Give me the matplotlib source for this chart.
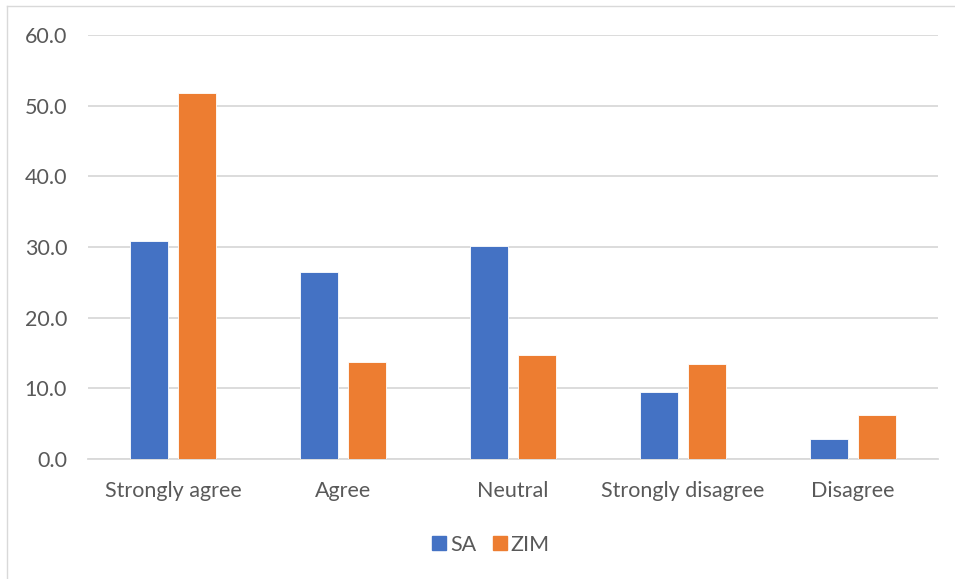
import matplotlib
matplotlib.use("Agg")
import matplotlib.pyplot as plt
import numpy as np
from matplotlib.lines import Line2D

categories = ["Strongly agree", "Agree", "Neutral", "Strongly disagree", "Disagree"]
sa_values = [30.9, 26.4, 30.2, 9.5, 2.9]
zim_values = [51.8, 13.7, 14.7, 13.4, 6.2]
series_names = ["SA", "ZIM"]
y_ticks = [0, 10, 20, 30, 40, 50, 60]

SA_COLOR = "#4472C4"
ZIM_COLOR = "#ED7D31"
TEXT_COLOR = "#595959"
GRID_COLOR = "#D9D9D9"
FONT_SIZE = 15.5

plt.rcParams["font.family"] = ["Lato", "DejaVu Sans"]

W, H = 955, 579
fig = plt.figure(figsize=(W / 100, H / 100), dpi=100)
ax = fig.add_axes([88 / W, 1 - 459 / H, (938 - 88) / W, (459 - 35) / H])

x = np.arange(len(categories))
bar_w = 38 / 170
offset = 24 / 170
ax.bar(x - offset, sa_values, width=bar_w, color=SA_COLOR, edgecolor="white",
       linewidth=0.6, zorder=3, label=series_names[0])
ax.bar(x + offset, zim_values, width=bar_w, color=ZIM_COLOR, edgecolor="white",
       linewidth=0.6, zorder=3, label=series_names[1])

ax.set_xlim(-0.5, len(categories) - 0.5)
ax.set_ylim(0, 60)
ax.set_yticks(y_ticks)
ax.set_yticklabels([f"{v:.1f}" for v in y_ticks])
ax.set_xticks(x)
ax.set_xticklabels(categories)
ax.yaxis.grid(True, color=GRID_COLOR, linewidth=1.3, zorder=0)
ax.set_axisbelow(True)
for side in ["top", "right", "left"]:
    ax.spines[side].set_visible(False)
ax.spines["bottom"].set_color(GRID_COLOR)
ax.spines["bottom"].set_linewidth(1.3)
ax.tick_params(axis="both", length=0, labelsize=FONT_SIZE, colors=TEXT_COLOR)
ax.tick_params(axis="y", pad=15)
ax.tick_params(axis="x", pad=16)

handles = [
    Line2D([0], [0], marker="s", linestyle="none", markersize=10,
           markerfacecolor=SA_COLOR, markeredgecolor=SA_COLOR),
    Line2D([0], [0], marker="s", linestyle="none", markersize=10,
           markerfacecolor=ZIM_COLOR, markeredgecolor=ZIM_COLOR),
]
leg = fig.legend(handles, series_names, loc="center", bbox_to_anchor=(489 / W, 1 - 545 / H),
                 ncol=2, frameon=False, fontsize=FONT_SIZE, handletextpad=0.0,
                 columnspacing=0.6, handlelength=1.0, labelcolor=TEXT_COLOR)

# chart frame (left and top edges)
fig.add_artist(Line2D([7 / W, 7 / W], [0, 1 - 6 / H], transform=fig.transFigure,
                      color=GRID_COLOR, linewidth=1.0))
fig.add_artist(Line2D([7 / W, 1], [1 - 6 / H, 1 - 6 / H], transform=fig.transFigure,
                      color=GRID_COLOR, linewidth=1.0))

fig.savefig("out.png", dpi=100, facecolor="white")
